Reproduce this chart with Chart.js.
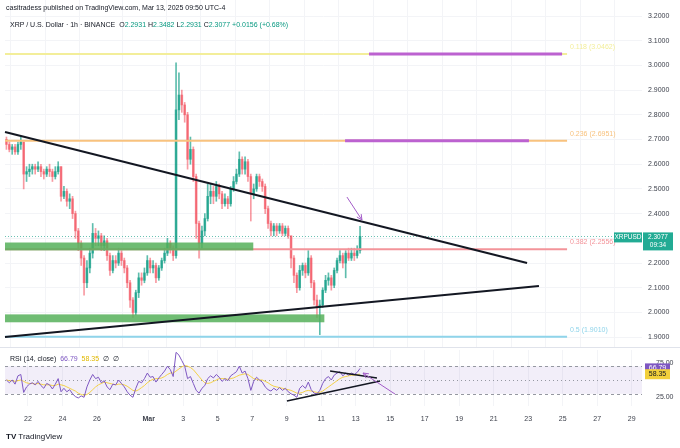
<!DOCTYPE html>
<html>
<head>
<meta charset="utf-8">
<script src="https://cdn.jsdelivr.net/npm/chart.js@4.4.1/dist/chart.umd.min.js"></script>
<style>
  body { margin: 0; width: 680px; height: 448px; overflow: hidden; position: relative; background: #fff;
         font-family: "Liberation Sans", Arial, sans-serif; color: #131722; }
  canvas { position: absolute; left: 0; }
  #main { top: 0; }
  #rsi { top: 348px; }
  .txt { position: absolute; white-space: nowrap; font-size: 7px; }
  .g { color: #089981; }
</style>
</head>
<body>
<canvas id="main" width="680" height="348"></canvas>
<canvas id="rsi" width="680" height="100"></canvas>
<div class="txt" style="left:6px;top:4px">casitradess published on TradingView.com, Mar 13, 2025 09:50 UTC-4</div>
<div class="txt" style="left:10px;top:21px">XRP / U.S. Dollar · 1h · BINANCE &nbsp;O<span class="g">2.2931</span> H<span class="g">2.3482</span> L<span class="g">2.2931</span> C<span class="g">2.3077</span> <span class="g">+0.0156 (+0.68%)</span></div>
<div class="txt" style="left:10px;top:355px">RSI (14, close) &nbsp;<span style="color:#7e57c2">66.79</span> &nbsp;<span style="color:#e0b800">58.35</span> &nbsp;∅ &nbsp;∅</div>
<div class="txt" style="left:6px;top:432px;font-size:8px"><b>TV</b> TradingView</div>
<script>
// 4h candles, days counted from Feb 22 00:00
const startDay = -1.25;
const stepDay = 1 / 6;
const firstOpen = 2.70;
const closes = [2.68,2.66,2.67,2.65,2.68,2.69,2.56,2.57,2.58,2.59,2.58,2.59,2.57,2.56,2.58,2.57,2.55,2.57,2.59,2.47,
  2.49,2.45,2.46,2.40,2.33,2.28,2.22,2.12,2.18,2.24,2.32,2.30,2.31,2.27,2.29,2.23,2.17,2.21,2.20,2.24,
  2.21,2.18,2.12,2.05,2.00,2.08,2.14,2.13,2.16,2.21,2.18,2.19,2.14,2.18,2.21,2.24,2.28,2.26,2.23,2.82,
  2.88,2.84,2.80,2.62,2.66,2.55,2.36,2.28,2.33,2.38,2.47,2.49,2.47,2.51,2.48,2.44,2.46,2.44,2.50,2.53,
  2.56,2.62,2.58,2.61,2.55,2.48,2.50,2.55,2.53,2.51,2.42,2.36,2.33,2.35,2.33,2.35,2.32,2.34,2.31,2.22,
  2.15,2.10,2.17,2.19,2.16,2.22,2.12,2.05,2.02,2.03,2.09,2.13,2.14,2.11,2.17,2.21,2.23,2.20,2.24,2.22,
  2.24,2.23,2.25,2.3077];
const highs = [2.71,2.69,2.68,2.68,2.69,2.71,2.69,2.59,2.60,2.60,2.60,2.61,2.60,2.58,2.59,2.60,2.58,2.59,2.61,2.59,
  2.51,2.50,2.48,2.47,2.41,2.34,2.29,2.23,2.21,2.26,2.36,2.34,2.33,2.32,2.31,2.30,2.24,2.23,2.23,2.26,
  2.25,2.22,2.19,2.13,2.06,2.09,2.16,2.16,2.18,2.23,2.22,2.21,2.20,2.19,2.22,2.26,2.30,2.29,2.27,3.01,
  2.97,2.90,2.85,2.81,2.71,2.67,2.56,2.37,2.35,2.40,2.52,2.52,2.51,2.53,2.52,2.49,2.48,2.47,2.51,2.55,
  2.58,2.65,2.63,2.63,2.62,2.56,2.52,2.56,2.56,2.54,2.52,2.43,2.37,2.36,2.36,2.36,2.36,2.35,2.35,2.31,
  2.23,2.16,2.19,2.20,2.20,2.25,2.23,2.13,2.07,2.05,2.10,2.15,2.16,2.15,2.18,2.22,2.25,2.24,2.25,2.26,
  2.26,2.26,2.27,2.3482];
const lows = [2.66,2.65,2.64,2.64,2.64,2.66,2.50,2.53,2.55,2.56,2.56,2.57,2.55,2.54,2.55,2.55,2.53,2.54,2.56,2.45,
  2.46,2.43,2.42,2.38,2.30,2.25,2.19,2.07,2.10,2.16,2.22,2.27,2.27,2.25,2.25,2.21,2.15,2.16,2.18,2.19,
  2.19,2.16,2.10,2.02,1.98,1.99,2.06,2.11,2.12,2.15,2.16,2.16,2.12,2.13,2.17,2.20,2.23,2.24,2.21,2.22,
  2.78,2.81,2.77,2.58,2.60,2.53,2.30,2.22,2.26,2.31,2.37,2.44,2.44,2.45,2.46,2.42,2.43,2.42,2.43,2.49,
  2.52,2.55,2.56,2.56,2.53,2.37,2.46,2.49,2.51,2.49,2.40,2.34,2.31,2.31,2.31,2.32,2.31,2.31,2.30,2.18,
  2.12,2.08,2.09,2.15,2.14,2.15,2.10,2.03,1.98,1.91,2.02,2.08,2.11,2.09,2.10,2.16,2.20,2.18,2.14,2.21,
  2.21,2.21,2.22,2.24];
const rsiValues = [50,46,50,44,56,58,32,40,44,46,43,48,42,38,45,43,37,44,52,33,
  38,33,36,30,26,24,27,25,40,50,58,52,54,46,49,40,36,44,43,50,
  45,40,33,28,25,38,48,46,52,60,54,55,47,53,58,63,70,65,55,90,
  86,78,70,52,55,45,35,31,38,42,52,56,53,58,54,48,52,49,56,59,
  62,70,60,63,52,35,48,54,50,47,40,36,34,38,35,39,35,38,33,30,
  28,25,38,42,38,47,36,31,30,35,45,52,55,50,57,60,62,56,60,57,
  60,58,61,66.79];
const rsiMaValues = [50,49,49,48,49,50,48,46,45,45,44,45,44,43,43,43,42,42,44,43,
  42,40,38,36,34,31,29,28,29,32,36,40,43,45,47,46,45,44,43,44,
  44,43,41,38,35,34,36,39,42,46,49,51,52,52,53,55,58,60,60,63,
  66,69,71,70,68,65,60,55,50,46,45,46,48,50,52,52,52,51,52,53,
  55,57,58,59,58,55,52,51,50,50,48,46,43,41,40,39,38,37,36,35,
  33,31,31,32,34,35,34,33,32,32,34,37,40,43,46,49,52,54,55,56,
  57,57,58,58.35];

const priceTicks = [1.9,2.0,2.1,2.2,2.3,2.4,2.5,2.6,2.7,2.8,2.9,3.0,3.1,3.2];
const tickDays = [0,2,4,7,9,11,13,15,17,19,21,23,25,27,29,31,33,35];
const tickLabels = ['22','24','26','Mar','3','5','7','9','11','13','15','17','19','21','23','25','27','29'];
const lastPrice = 2.3077;

const fibNames = ['0.118','0.236','0.382','0.5'];
const fibPrices = [3.0462, 2.6951, 2.2556, 1.9010];

// drawings, in (day, price) units
const fibColors = ['#f3ee9a','#f8c27e','#f3949a','#8fd4ea'];
const fibFrom = -1.3333, fibTo = 31.25, fibLabelAt = 31.42;
const purpleSegs = [[19.77, 30.96, 3.0462], [18.38, 29.04, 2.6951]];
const zones = [[-1.3333, 13.06, 2.283, 2.251], [-1.3333, 17.18, 1.992, 1.960]];
const trendLines = [[-1.3333, 2.7304, 28.93, 2.200], [-1.3333, 1.900, 29.62, 2.107]];
const priceArrow = [18.49, 2.467, 19.36, 2.374];
const rsiLines = [[15.01, 19.5, 20.41, 48.5], [17.51, 63.0, 20.23, 52.8]];
const rsiArrow = [21.28, 29.6, 19.42, 60.1];

const xMin = -1.3333, xMax = 35.594;
const FONT = '"Liberation Sans", Arial, sans-serif';

const times = closes.map((c, i) => startDay + i * stepDay);
const opens = closes.map((c, i) => i === 0 ? firstOpen : closes[i - 1]);
const candleColors = closes.map((c, i) => c >= opens[i] ? 'rgba(8,153,129,0.65)' : 'rgba(242,54,69,0.5)');

function noPad(s) { s.paddingTop = 0; s.paddingBottom = 0; s.paddingLeft = 0; s.paddingRight = 0; }

function arrow(ctx, x1, y1, x2, y2) {
  const a = Math.atan2(y2 - y1, x2 - x1);
  ctx.beginPath();
  ctx.moveTo(x1, y1); ctx.lineTo(x2, y2);
  ctx.moveTo(x2 - 6 * Math.cos(a - 0.45), y2 - 6 * Math.sin(a - 0.45));
  ctx.lineTo(x2, y2);
  ctx.lineTo(x2 - 6 * Math.cos(a + 0.45), y2 - 6 * Math.sin(a + 0.45));
  ctx.stroke();
}

const mainOverlay = {
  id: 'mainOverlay',
  beforeDatasetsDraw(chart) {
    const { ctx, chartArea, scales: { y } } = chart;
    const py = Math.round(y.getPixelForValue(lastPrice)) + 0.5;
    ctx.save();
    ctx.strokeStyle = 'rgba(8,153,129,0.6)';
    ctx.setLineDash([1, 2]);
    ctx.beginPath(); ctx.moveTo(chartArea.left, py); ctx.lineTo(chartArea.right, py); ctx.stroke();
    ctx.restore();
  },
  afterDatasetsDraw(chart) {
    const { ctx, scales: { x, y } } = chart;
    ctx.save();
    // fib levels
    ctx.lineWidth = 2;
    fibPrices.forEach((p, i) => {
      ctx.strokeStyle = fibColors[i];
      ctx.beginPath();
      ctx.moveTo(x.getPixelForValue(fibFrom), y.getPixelForValue(p));
      ctx.lineTo(x.getPixelForValue(fibTo), y.getPixelForValue(p));
      ctx.stroke();
      ctx.fillStyle = fibColors[i];
      ctx.font = '7px ' + FONT;
      ctx.textBaseline = 'middle';
      ctx.fillText(fibNames[i] + ' (' + p.toFixed(4) + ')', x.getPixelForValue(fibLabelAt), y.getPixelForValue(p) - 7);
    });
    // purple marks on levels
    ctx.strokeStyle = '#bc62d0';
    ctx.lineWidth = 3;
    purpleSegs.forEach(s => {
      ctx.beginPath();
      ctx.moveTo(x.getPixelForValue(s[0]), y.getPixelForValue(s[2]));
      ctx.lineTo(x.getPixelForValue(s[1]), y.getPixelForValue(s[2]));
      ctx.stroke();
    });
    // green zones
    ctx.fillStyle = 'rgba(86,176,90,0.85)';
    zones.forEach(z => {
      const x1 = x.getPixelForValue(z[0]), x2 = x.getPixelForValue(z[1]);
      const y1 = y.getPixelForValue(z[2]), y2 = y.getPixelForValue(z[3]);
      ctx.fillRect(x1, y1, x2 - x1, y2 - y1);
    });
    // trend lines
    ctx.strokeStyle = '#131722';
    ctx.lineWidth = 2;
    trendLines.forEach(t => {
      ctx.beginPath();
      ctx.moveTo(x.getPixelForValue(t[0]), y.getPixelForValue(t[1]));
      ctx.lineTo(x.getPixelForValue(t[2]), y.getPixelForValue(t[3]));
      ctx.stroke();
    });
    ctx.strokeStyle = '#a35cc8';
    ctx.lineWidth = 1;
    arrow(ctx, x.getPixelForValue(priceArrow[0]), y.getPixelForValue(priceArrow[1]),
      x.getPixelForValue(priceArrow[2]), y.getPixelForValue(priceArrow[3]));
    ctx.restore();
  },
  afterDraw(chart) {
    const { ctx, chartArea, scales: { y } } = chart;
    const py = y.getPixelForValue(lastPrice);
    ctx.save();
    ctx.fillStyle = '#22ab94';
    ctx.fillRect(chartArea.right - 28, py - 4, 28, 10);
    ctx.fillRect(chartArea.right + 1, py - 4, 30, 18);
    ctx.fillStyle = '#fff';
    ctx.font = '6.5px ' + FONT;
    ctx.textBaseline = 'middle';
    ctx.textAlign = 'center';
    ctx.fillText('XRPUSD', chartArea.right - 14, py + 1);
    ctx.fillText(lastPrice.toFixed(4), chartArea.right + 16, py + 1);
    ctx.fillText('09:34', chartArea.right + 16, py + 9);
    ctx.strokeStyle = '#e0e3eb';
    ctx.beginPath(); ctx.moveTo(0, chartArea.bottom - 0.5); ctx.lineTo(680, chartArea.bottom - 0.5); ctx.stroke();
    ctx.restore();
  }
};

new Chart(document.getElementById('main'), {
  type: 'bar',
  data: {
    datasets: [
      { data: times.map((t, i) => ({ x: t, y: [lows[i], highs[i]] })), backgroundColor: candleColors,
        barThickness: 1, grouped: false, minBarLength: 1 },
      { data: times.map((t, i) => ({ x: t, y: [opens[i], closes[i]] })), backgroundColor: candleColors,
        barThickness: 2, grouped: false, minBarLength: 1 }
    ]
  },
  options: {
    responsive: false,
    animation: false,
    layout: { padding: { left: 5, top: 0, right: 0, bottom: 0 } },
    plugins: { legend: { display: false }, tooltip: { enabled: false } },
    scales: {
      x: {
        type: 'linear', min: xMin, max: xMax, offset: false,
        afterBuildTicks: s => { s.ticks = tickDays.map(v => ({ value: v })); },
        ticks: { display: false },
        grid: { color: '#f3f4f7', drawTicks: false },
        border: { display: false },
        afterFit: s => { s.height = 0; noPad(s); }
      },
      y: {
        position: 'right', min: 1.8559, max: 3.2648,
        afterBuildTicks: s => { s.ticks = priceTicks.map(v => ({ value: v })); },
        ticks: { callback: v => v.toFixed(4), font: { size: 7, family: FONT }, color: '#3b3f4a', padding: 6 },
        grid: { color: '#f3f4f7', drawTicks: false },
        border: { display: false },
        afterFit: s => { s.width = 38; noPad(s); }
      }
    }
  },
  plugins: [mainOverlay]
});

const rsiOverlay = {
  id: 'rsiOverlay',
  beforeDatasetsDraw(chart) {
    const { ctx, chartArea, scales: { x, y } } = chart;
    ctx.save();
    ctx.fillStyle = 'rgba(126,87,194,0.1)';
    ctx.fillRect(chartArea.left, y.getPixelForValue(70), chartArea.right - chartArea.left,
      y.getPixelForValue(30) - y.getPixelForValue(70));
    ctx.strokeStyle = '#9598a1';
    ctx.lineWidth = 1;
    [70, 50, 30].forEach(v => {
      ctx.setLineDash(v === 50 ? [1, 3] : [3, 3]);
      const py = Math.round(y.getPixelForValue(v)) + 0.5;
      ctx.beginPath(); ctx.moveTo(chartArea.left, py); ctx.lineTo(chartArea.right, py); ctx.stroke();
    });
    ctx.restore();
  },
  afterDatasetsDraw(chart) {
    const { ctx, scales: { x, y } } = chart;
    ctx.save();
    ctx.strokeStyle = '#131722';
    ctx.lineWidth = 1.5;
    rsiLines.forEach(t => {
      ctx.beginPath();
      ctx.moveTo(x.getPixelForValue(t[0]), y.getPixelForValue(t[1]));
      ctx.lineTo(x.getPixelForValue(t[2]), y.getPixelForValue(t[3]));
      ctx.stroke();
    });
    ctx.strokeStyle = '#a35cc8';
    ctx.lineWidth = 1;
    arrow(ctx, x.getPixelForValue(rsiArrow[0]), y.getPixelForValue(rsiArrow[1]),
      x.getPixelForValue(rsiArrow[2]), y.getPixelForValue(rsiArrow[3]));
    ctx.restore();
  },
  afterDraw(chart) {
    const { ctx, chartArea, scales: { y } } = chart;
    const boxes = [[rsiValues[rsiValues.length - 1], '#7e57c2', '#fff'], [rsiMaValues[rsiMaValues.length - 1], '#f2d03b', '#131722']];
    ctx.save();
    ctx.font = '7px ' + FONT;
    ctx.textBaseline = 'middle';
    ctx.textAlign = 'center';
    boxes.forEach(b => {
      const py = y.getPixelForValue(b[0]);
      ctx.fillStyle = b[1];
      ctx.fillRect(chartArea.right + 3, py - 5, 25, 10);
      ctx.fillStyle = b[2];
      ctx.fillText(b[0].toFixed(2), chartArea.right + 15.5, py);
    });
    ctx.restore();
  }
};

new Chart(document.getElementById('rsi'), {
  type: 'line',
  data: {
    datasets: [
      { data: times.map((t, i) => ({ x: t, y: rsiValues[i] })), borderColor: '#7e57c2', borderWidth: 1,
        pointRadius: 0, tension: 0 },
      { data: times.map((t, i) => ({ x: t, y: rsiMaValues[i] })), borderColor: 'rgba(245,205,40,0.85)', borderWidth: 1,
        pointRadius: 0, tension: 0 }
    ]
  },
  options: {
    responsive: false,
    animation: false,
    layout: { padding: { left: 5, top: 2, right: 0, bottom: 0 } },
    plugins: { legend: { display: false }, tooltip: { enabled: false } },
    scales: {
      x: {
        type: 'linear', min: xMin, max: xMax, offset: false,
        afterBuildTicks: s => { s.ticks = tickDays.map(v => ({ value: v })); },
        ticks: {
          callback: (v, i) => tickLabels[i], autoSkip: false, maxRotation: 0, padding: 9, color: '#3b3f4a',
          font: c => ({ size: 7, family: FONT, weight: tickLabels[c.index] === 'Mar' ? 'bold' : 'normal' })
        },
        grid: { color: '#f3f4f7', drawTicks: false },
        border: { display: false },
        afterFit: s => { s.height = 42; noPad(s); }
      },
      y: {
        position: 'right', min: 12.4, max: 93.4,
        afterBuildTicks: s => { s.ticks = [25, 75].map(v => ({ value: v })); },
        ticks: { callback: v => v.toFixed(2), font: { size: 7, family: FONT }, color: '#3b3f4a', padding: 6 },
        grid: { display: false },
        border: { display: false },
        afterFit: s => { s.width = 38; noPad(s); }
      }
    }
  },
  plugins: [rsiOverlay]
});
</script>
</body>
</html>
